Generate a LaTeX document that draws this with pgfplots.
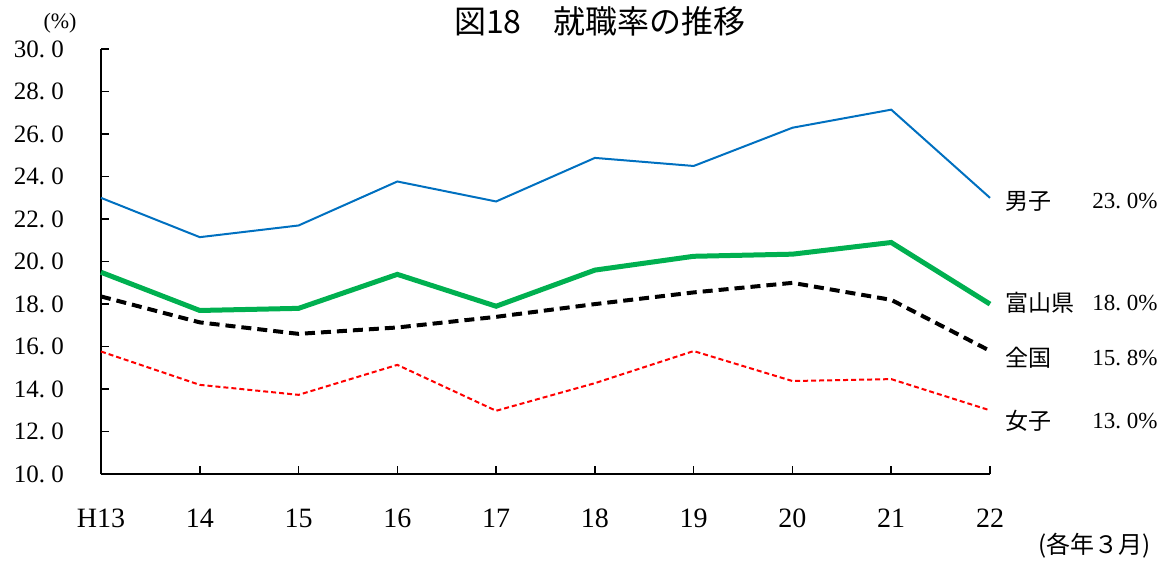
\documentclass[border=0pt]{standalone}
\usepackage{pgfplots}
\pgfplotsset{compat=1.18}
\usepackage{fontspec}
\setmainfont{Liberation Serif}
\newfontfamily\cjk{Noto Sans CJK JP}
\newcommand\dt{\makebox[0.5em][l]{.}}
\definecolor{mblue}{RGB}{0,112,192}
\definecolor{mgreen}{RGB}{0,176,80}
\definecolor{mred}{RGB}{255,0,0}
\begin{document}
\begin{tikzpicture}
\begin{axis}[
  scale only axis, width=444.5pt, height=212.5pt,
  xmin=0, xmax=9, ymin=10, ymax=30,
  axis lines=left, axis line style={-, line width=1pt},
  clip=false,
  xtick={0,...,9},
  xticklabels={H13,14,15,16,17,18,19,20,21,22},
  xticklabel style={font=\fontsize{14}{16}\selectfont, yshift=-14pt},
  ytick={10,12,...,30},
  yticklabels={10\dt0,12\dt0,14\dt0,16\dt0,18\dt0,20\dt0,22\dt0,24\dt0,26\dt0,28\dt0,30\dt0},
  yticklabel style={font=\fontsize{12.5}{14}\selectfont, xshift=-15pt},
  tick style={black, line width=0.8pt},
  xtick pos=bottom, ytick pos=left,
  tick align=inside,
  major tick length=4pt,
]
\addplot[mblue, line width=1pt] coordinates {(0,23.0)(1,21.15)(2,21.7)(3,23.77)(4,22.83)(5,24.88)(6,24.5)(7,26.3)(8,27.15)(9,23.0)};
\addplot[mgreen, line width=2.5pt] coordinates {(0,19.5)(1,17.7)(2,17.8)(3,19.4)(4,17.9)(5,19.6)(6,20.25)(7,20.35)(8,20.9)(9,18.0)};
\addplot[black, line width=2pt, dash pattern=on 5pt off 3pt] coordinates {(0,18.36)(1,17.14)(2,16.6)(3,16.9)(4,17.4)(5,18.0)(6,18.55)(7,19.0)(8,18.2)(9,15.8)};
\addplot[mred, line width=1pt, dash pattern=on 2.5pt off 1.5pt] coordinates {(0,15.77)(1,14.2)(2,13.73)(3,15.14)(4,12.98)(5,14.28)(6,15.79)(7,14.38)(8,14.47)(9,13.0)};
\begin{scope}[font=\fontsize{11.5}{13}\selectfont]
\node[anchor=west, inner sep=0pt] at (axis cs:9.152,22.85) {\cjk 男子};
\node[anchor=east, inner sep=0pt] at (axis cs:10.70,22.85) {23\dt0\%};
\node[anchor=west, inner sep=0pt] at (axis cs:9.152,18.05) {\cjk 富山県};
\node[anchor=east, inner sep=0pt] at (axis cs:10.70,18.05) {18\dt0\%};
\node[anchor=west, inner sep=0pt] at (axis cs:9.152,15.46) {\cjk 全国};
\node[anchor=east, inner sep=0pt] at (axis cs:10.70,15.46) {15\dt8\%};
\node[anchor=west, inner sep=0pt] at (axis cs:9.152,12.49) {\cjk 女子};
\node[anchor=east, inner sep=0pt] at (axis cs:10.70,12.49) {13\dt0\%};
\end{scope}
\node[font=\fontsize{16}{18}\cjk] at (axis cs:5.05,31.3) {図18\quad 就職率の推移};
\node[font=\fontsize{11}{13}\selectfont] at (axis cs:-0.415,31.2) {(\%)};
\node[font=\fontsize{12}{14}\cjk] at (axis cs:10.06,6.61) {(各年３月)};
\end{axis}
\path ([shift={(-50.5pt,-43pt)}]current axis.south west) rectangle ([shift={(89pt,23pt)}]current axis.north east);
\end{tikzpicture}
\end{document}
